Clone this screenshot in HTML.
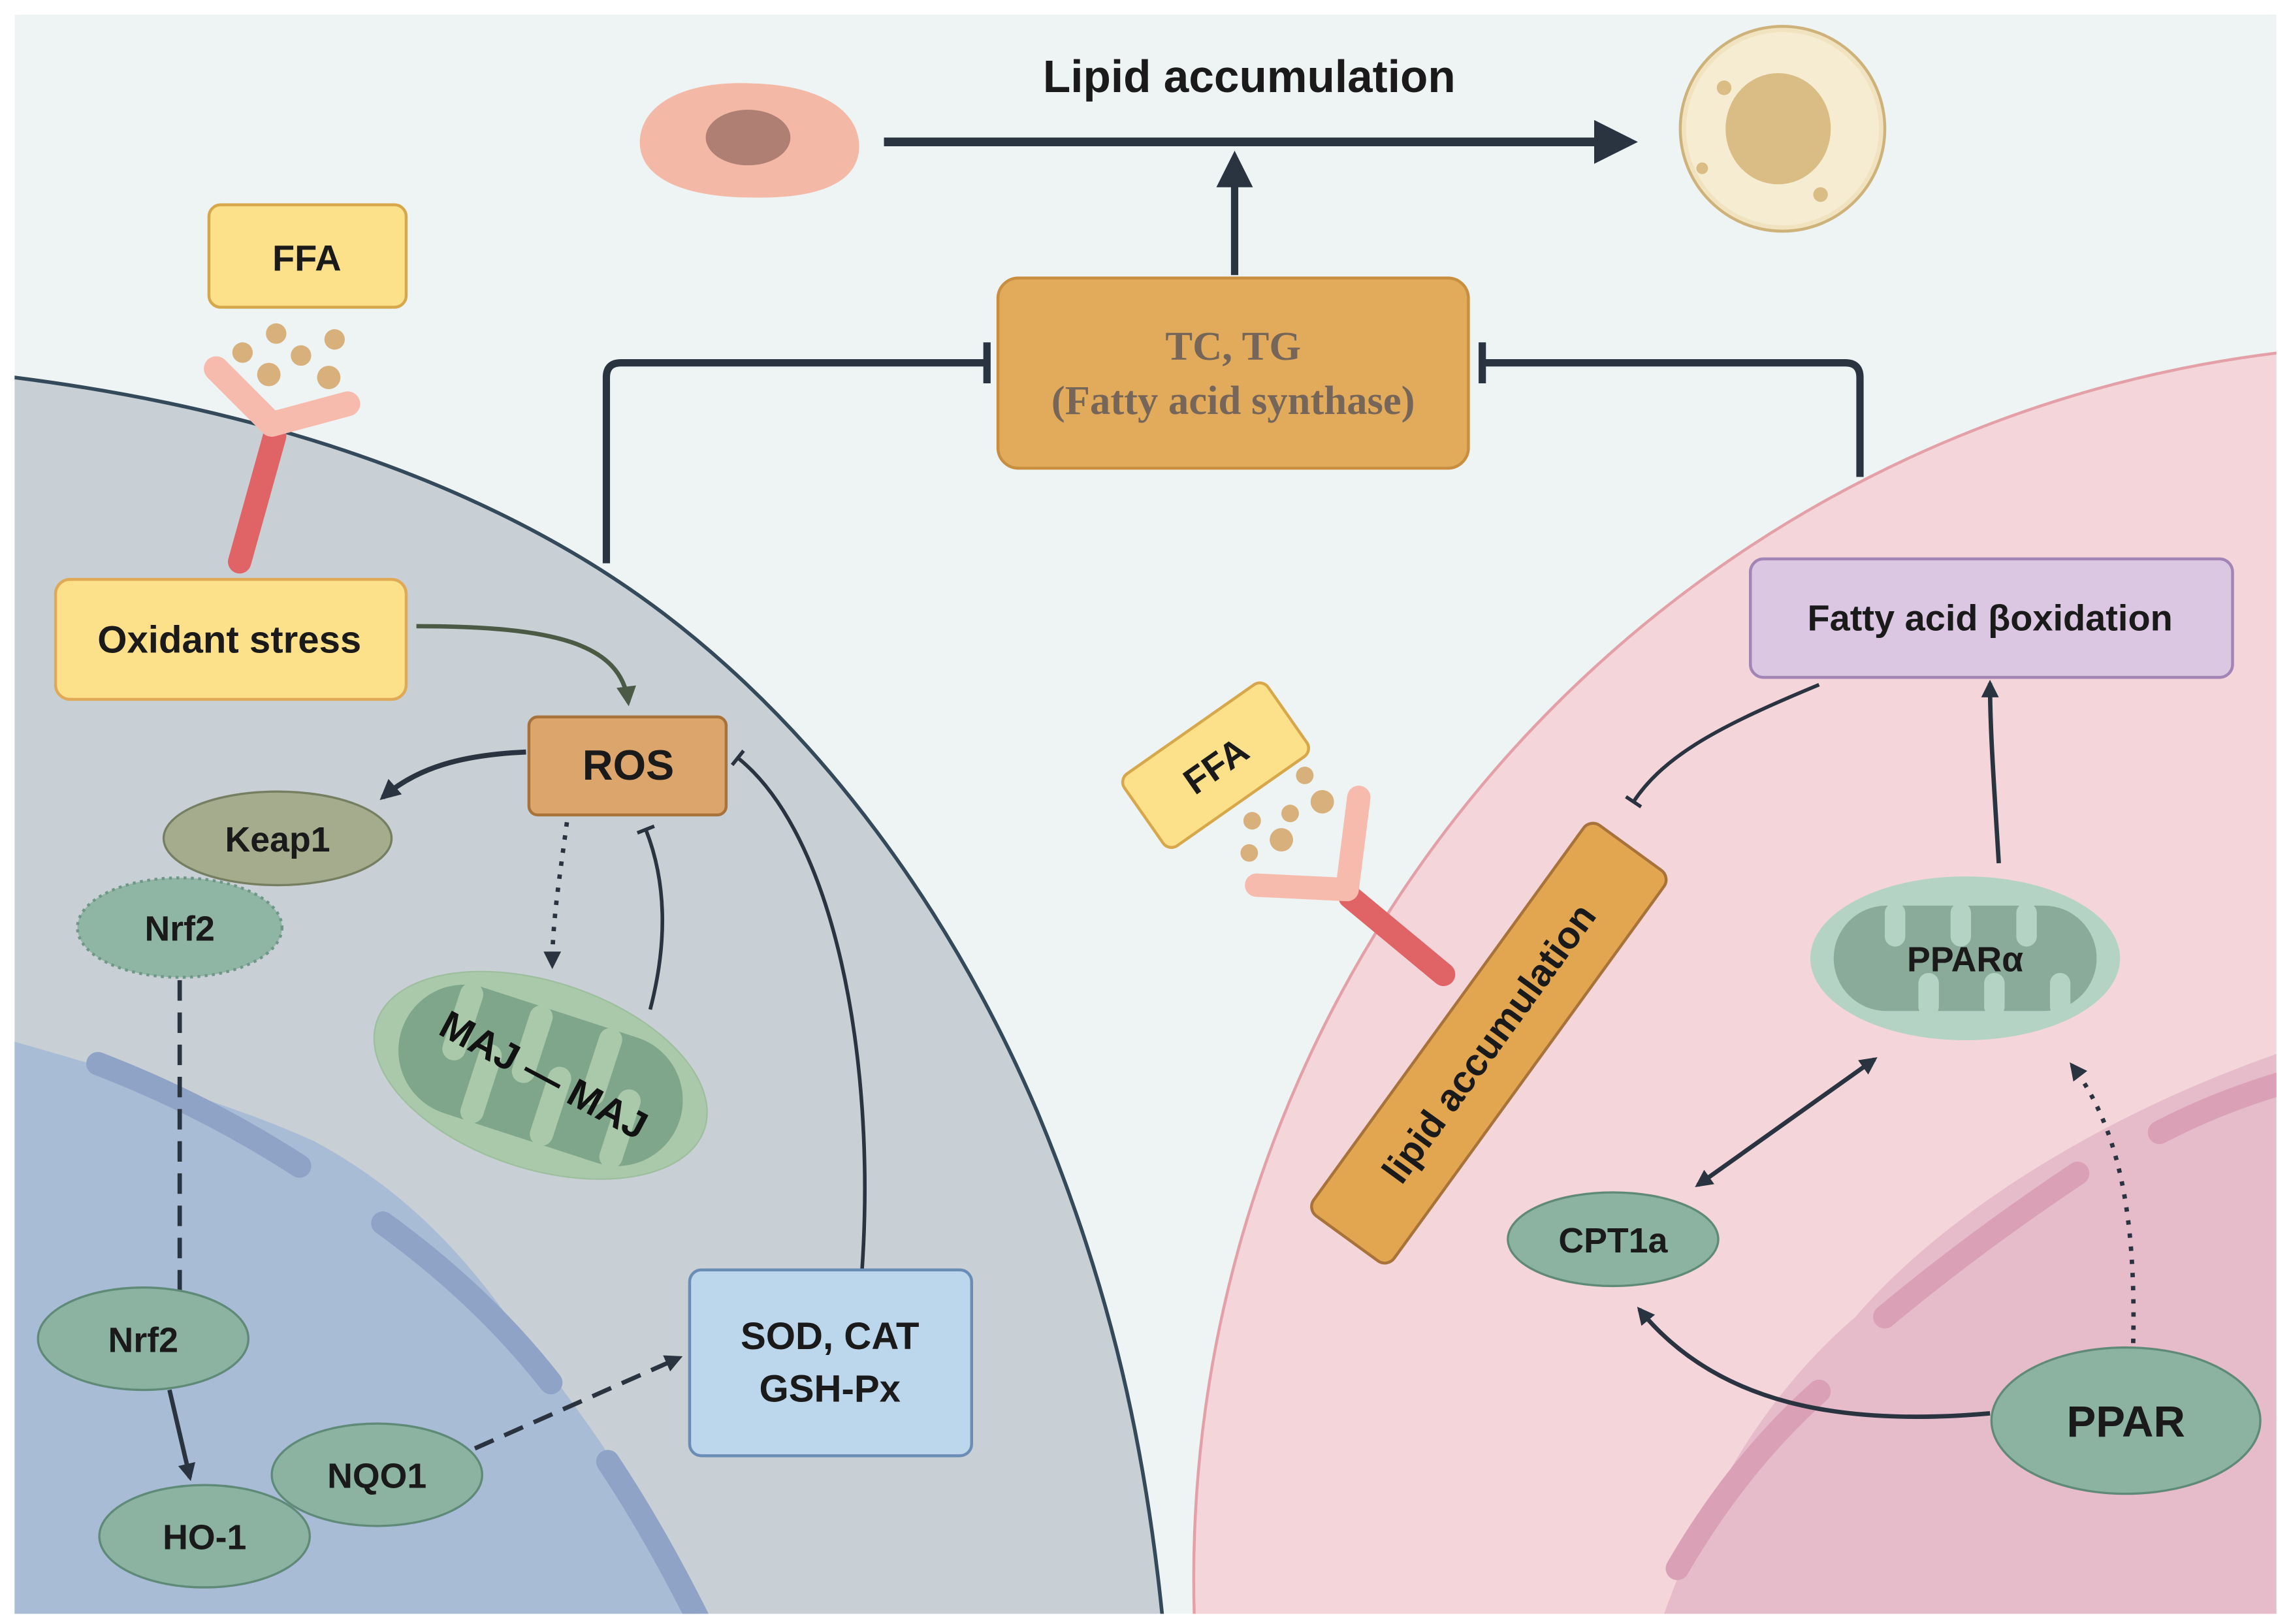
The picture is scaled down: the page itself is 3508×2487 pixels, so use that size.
<!DOCTYPE html>
<html><head><meta charset="utf-8"><style>
html,body{margin:0;padding:0;background:#fff;overflow:hidden;width:3508px;height:2487px;}
svg{display:block;}
text{font-family:"Liberation Sans",Arial,sans-serif;font-weight:bold;fill:#1a1a1a;}
</style></head><body>
<svg width="3508" height="2487" viewBox="0 0 1568 1110" preserveAspectRatio="none" xmlns="http://www.w3.org/2000/svg">
<defs>
<marker id="ahb" viewBox="0 0 10 10" refX="8" refY="5" markerWidth="5" markerHeight="5" orient="auto-start-reverse"><path d="M0,0 L10,5 L0,10 z" fill="#2a3340"/></marker>
<marker id="ah" viewBox="0 0 10 10" refX="8" refY="5" markerWidth="4" markerHeight="4" orient="auto-start-reverse"><path d="M0,0 L10,5 L0,10 z" fill="#2a3340"/></marker>
<marker id="ahs" viewBox="0 0 10 10" refX="8" refY="5" markerWidth="4" markerHeight="4" orient="auto-start-reverse"><path d="M0,0 L10,5 L0,10 z" fill="#2a3340"/></marker>
<marker id="ahg" viewBox="0 0 10 10" refX="8" refY="5" markerWidth="4.5" markerHeight="4.5" orient="auto"><path d="M0,0 L10,5 L0,10 z" fill="#4a5a44"/></marker>
<marker id="bar" viewBox="0 0 4 20" refX="2" refY="10" markerWidth="1" markerHeight="5" orient="auto"><rect x="0" y="0" width="4" height="20" fill="#2a3340"/></marker>
<clipPath id="frame"><rect x="10" y="10" width="1548" height="1093"/></clipPath>
</defs>
<rect x="10" y="10" width="1548" height="1093" fill="#eef4f3"/>
<g clip-path="url(#frame)">
<path d="M-20,255 L10,258 C200,282 350,340 455,420 C560,500 650,620 710,760 C760,880 785,990 797,1120 L-20,1120 Z" fill="#c9d0d5" stroke="#34495a" stroke-width="2.5"/>
<path d="M-20,708 L10,712 C90,735 160,755 215,780 C280,815 320,860 359,916 C410,980 450,1040 485,1120 L-20,1120 Z" fill="#a9bcd6"/>
<g stroke="#8ea3c6" stroke-width="16" stroke-linecap="round" fill="none">
<path d="M67,727 Q140,755 205,797"/>
<path d="M262,836 Q330,885 377,945"/>
<path d="M416,999 Q450,1050 482,1115"/>
</g>
<circle cx="1661" cy="1079" r="844" fill="#f4d6da" stroke="#e3a0a8" stroke-width="2"/>
<path d="M1580,712 L1568,717 C1440,760 1330,830 1270,900 C1200,960 1160,1040 1133,1120 L1580,1120 Z" fill="#e6bccb"/>
<g stroke="#d9a0b6" stroke-width="16" stroke-linecap="round" fill="none">
<path d="M1478,774 Q1520,752 1570,738"/>
<path d="M1290,900 Q1350,850 1422,802"/>
<path d="M1148,1072 Q1190,1000 1245,951"/>
</g>
</g>

<text x="855" y="63" font-size="31" text-anchor="middle">Lipid accumulation</text>
<path d="M438,95 C440,70 470,55 515,57 C560,58 588,75 588,100 C588,125 560,136 515,135 C465,135 436,120 438,95 Z" fill="#f4b9a6"/>
<ellipse cx="512" cy="94" rx="29" ry="19" fill="#b07f73"/>
<line x1="605" y1="97" x2="1115" y2="97" stroke="#2a3340" stroke-width="6" marker-end="url(#ahb)"/>
<line x1="845" y1="188" x2="845" y2="108" stroke="#2a3340" stroke-width="5" marker-end="url(#ahb)"/>
<ellipse cx="1220" cy="88" rx="70" ry="70" fill="#f2e3c0" stroke="#cdb27a" stroke-width="2"/>
<ellipse cx="1220" cy="88" rx="66" ry="66" fill="#f6ecd2"/>
<ellipse cx="1217" cy="88" rx="36" ry="38" fill="#d9bd85"/>
<circle cx="1180" cy="60" r="5" fill="#d9bd85"/><circle cx="1246" cy="133" r="5" fill="#d9bd85"/><circle cx="1165" cy="115" r="4" fill="#d9bd85"/>

<rect x="683" y="190" width="322" height="130" rx="14" fill="#e2ab5c" stroke="#c98e3f" stroke-width="2"/>
<text x="844" y="246" font-size="28" text-anchor="middle" style="font-family:'Liberation Serif',serif;fill:#76665a">TC, TG</text>
<text x="844" y="283" font-size="28" text-anchor="middle" style="font-family:'Liberation Serif',serif;fill:#76665a">(Fatty acid synthase)</text>
<path d="M415,385 L415,258 Q415,248 425,248 L676,248" fill="none" stroke="#2a3340" stroke-width="5"/>
<rect x="673" y="234" width="5" height="28" fill="#2a3340"/>
<path d="M1273,326 L1273,258 Q1273,248 1263,248 L1014,248" fill="none" stroke="#2a3340" stroke-width="5"/>
<rect x="1012" y="234" width="5" height="28" fill="#2a3340"/>

<rect x="143" y="140" width="135" height="70" rx="8" fill="#fde08a" stroke="#d7a84b" stroke-width="2"/>
<text x="210" y="185" font-size="25" text-anchor="middle">FFA</text>
<g fill="#d8b07c"><circle cx="166" cy="241" r="7"/><circle cx="189" cy="228" r="7"/><circle cx="206" cy="243" r="7"/><circle cx="229" cy="232" r="7"/><circle cx="184" cy="256" r="8"/><circle cx="225" cy="258" r="8"/></g>
<path d="M188,298 L164,384" stroke="#e06466" stroke-width="16" stroke-linecap="round"/>
<path d="M148,252 L186,290 L238,276" stroke="#f7bbae" stroke-width="17" stroke-linecap="round" stroke-linejoin="round" fill="none"/>

<rect x="38" y="396" width="240" height="82" rx="10" fill="#fde08a" stroke="#e0a955" stroke-width="2"/>
<text x="157" y="446" font-size="26" text-anchor="middle">Oxidant stress</text>
<path d="M285,428 C380,428 425,440 430,480" fill="none" stroke="#4a5a44" stroke-width="3" marker-end="url(#ahg)"/>
<rect x="362" y="490" width="135" height="67" rx="6" fill="#dca56b" stroke="#a8733a" stroke-width="2"/>
<text x="430" y="533" font-size="29" text-anchor="middle">ROS</text>
<path d="M360,514 C315,516 285,525 262,545" fill="none" stroke="#2a3340" stroke-width="3.5" marker-end="url(#ah)"/>
<ellipse cx="190" cy="573" rx="78" ry="32" fill="#a5ab8d" stroke="#767e62" stroke-width="1.5"/>
<text x="190" y="582" font-size="24" text-anchor="middle">Keap1</text>
<ellipse cx="123" cy="634" rx="70" ry="34" fill="#8fb5a4" stroke="#6f9787" stroke-width="2" stroke-dasharray="2,3"/>
<text x="123" y="643" font-size="24" text-anchor="middle">Nrf2</text>
<path d="M388,562 C383,600 378,630 378,660" fill="none" stroke="#2a3340" stroke-width="3" stroke-dasharray="3,6" marker-end="url(#ahs)"/>

<g transform="translate(370,735) rotate(18)">
<ellipse rx="118" ry="64" fill="#a9c9aa" stroke="#9dbf9e"/>
<rect x="-100" y="-45" width="200" height="90" rx="45" fill="#7fa58a"/>
<g fill="#a9c9aa">
<rect x="-70" y="-46" width="16" height="55" rx="8"/><rect x="-20" y="-46" width="16" height="55" rx="8"/><rect x="30" y="-46" width="16" height="55" rx="8"/>
<rect x="-45" y="-10" width="16" height="56" rx="8"/><rect x="5" y="-10" width="16" height="56" rx="8"/><rect x="55" y="-10" width="16" height="56" rx="8"/>
</g>
</g>
<g transform="translate(372,735) rotate(28)"><text x="0" y="9" font-size="27" text-anchor="middle" style="fill:#111">MAJ — MAJ</text></g>
<path d="M445,690 C458,640 455,600 442,567" fill="none" stroke="#2a3340" stroke-width="2.5" marker-end="url(#bar)"/>
<path d="M590,868 C600,720 570,570 505,518" fill="none" stroke="#2a3340" stroke-width="2.5" marker-end="url(#bar)"/>

<line x1="123" y1="670" x2="123" y2="893" stroke="#2a3340" stroke-width="3" stroke-dasharray="14,8" marker-end="url(#ahs)"/>
<ellipse cx="98" cy="915" rx="72" ry="35" fill="#8cb3a2" stroke="#5f8a78" stroke-width="1.5"/>
<text x="98" y="924" font-size="24" text-anchor="middle">Nrf2</text>
<path d="M116,950 L130,1010" stroke="#2a3340" stroke-width="3" marker-end="url(#ah)"/>
<ellipse cx="258" cy="1008" rx="72" ry="35" fill="#8cb3a2" stroke="#5f8a78" stroke-width="1.5"/>
<text x="258" y="1017" font-size="24" text-anchor="middle">NQO1</text>
<ellipse cx="140" cy="1050" rx="72" ry="35" fill="#8cb3a2" stroke="#5f8a78" stroke-width="1.5"/>
<text x="140" y="1059" font-size="24" text-anchor="middle">HO-1</text>
<line x1="325" y1="990" x2="465" y2="928" stroke="#2a3340" stroke-width="3" stroke-dasharray="14,8" marker-end="url(#ahs)"/>
<rect x="472" y="868" width="193" height="127" rx="8" fill="#bcd6ec" stroke="#6a8db5" stroke-width="2"/>
<text x="568" y="922" font-size="26" text-anchor="middle">SOD, CAT</text>
<text x="568" y="958" font-size="26" text-anchor="middle">GSH-Px</text>

<g transform="translate(832,523) rotate(-35)">
<rect x="-60" y="-30" width="120" height="60" rx="7" fill="#fde08a" stroke="#d7a84b" stroke-width="2"/>
<text x="0" y="9" font-size="25" text-anchor="middle">FFA</text>
</g>
<g fill="#d8b07c"><circle cx="893" cy="530" r="6"/><circle cx="905" cy="548" r="8"/><circle cx="883" cy="556" r="6"/><circle cx="857" cy="561" r="6"/><circle cx="877" cy="574" r="8"/><circle cx="855" cy="583" r="6"/></g>
<path d="M924,613 L988,666" stroke="#e06466" stroke-width="16" stroke-linecap="round"/>
<path d="M860,605 L922,608 L930,545" stroke="#f7bbae" stroke-width="16" stroke-linecap="round" stroke-linejoin="round" fill="none"/>

<g transform="translate(1019,713) rotate(-54)">
<rect x="-165" y="-34" width="330" height="68" rx="8" fill="#e2a550" stroke="#a8733a" stroke-width="2"/>
<text x="0" y="9" font-size="26" text-anchor="middle">lipid accumulation</text>
</g>
<rect x="1198" y="382" width="330" height="81" rx="9" fill="#dcc7e3" stroke="#a285b5" stroke-width="2"/>
<text x="1362" y="431" font-size="25" text-anchor="middle">Fatty acid βoxidation</text>
<path d="M1245,468 C1180,495 1140,515 1118,548" fill="none" stroke="#2a3340" stroke-width="2.5" marker-end="url(#bar)"/>
<path d="M1368,590 C1365,540 1362,500 1362,467" fill="none" stroke="#2a3340" stroke-width="3" marker-end="url(#ah)"/>

<g transform="translate(1345,655)">
<ellipse rx="106" ry="56" fill="#b5d3c5"/>
<rect x="-90" y="-36" width="180" height="72" rx="36" fill="#8aab9a"/>
<g fill="#b5d3c5">
<rect x="-55" y="-38" width="14" height="30" rx="7"/><rect x="-10" y="-38" width="14" height="30" rx="7"/><rect x="35" y="-38" width="14" height="30" rx="7"/>
<rect x="-32" y="10" width="14" height="30" rx="7"/><rect x="13" y="10" width="14" height="30" rx="7"/><rect x="58" y="10" width="14" height="30" rx="7"/>
</g>
<text x="0" y="9" font-size="24" text-anchor="middle">PPARα</text>
</g>
<line x1="1162" y1="810" x2="1283" y2="724" stroke="#2a3340" stroke-width="3" marker-start="url(#ah)" marker-end="url(#ah)"/>
<ellipse cx="1104" cy="847" rx="72" ry="32" fill="#8cb3a2" stroke="#5f8a78" stroke-width="1.5"/>
<text x="1104" y="856" font-size="24" text-anchor="middle">CPT1a</text>
<ellipse cx="1455" cy="971" rx="92" ry="50" fill="#8cb3a2" stroke="#5f8a78" stroke-width="1.5"/>
<text x="1455" y="982" font-size="30" text-anchor="middle">PPAR</text>
<path d="M1362,966 C1260,975 1175,960 1122,895" fill="none" stroke="#2a3340" stroke-width="3" marker-end="url(#ah)"/>
<path d="M1460,918 C1462,830 1450,770 1418,728" fill="none" stroke="#2a3340" stroke-width="3" stroke-dasharray="3,6" marker-end="url(#ahs)"/>
</svg>
</body></html>
